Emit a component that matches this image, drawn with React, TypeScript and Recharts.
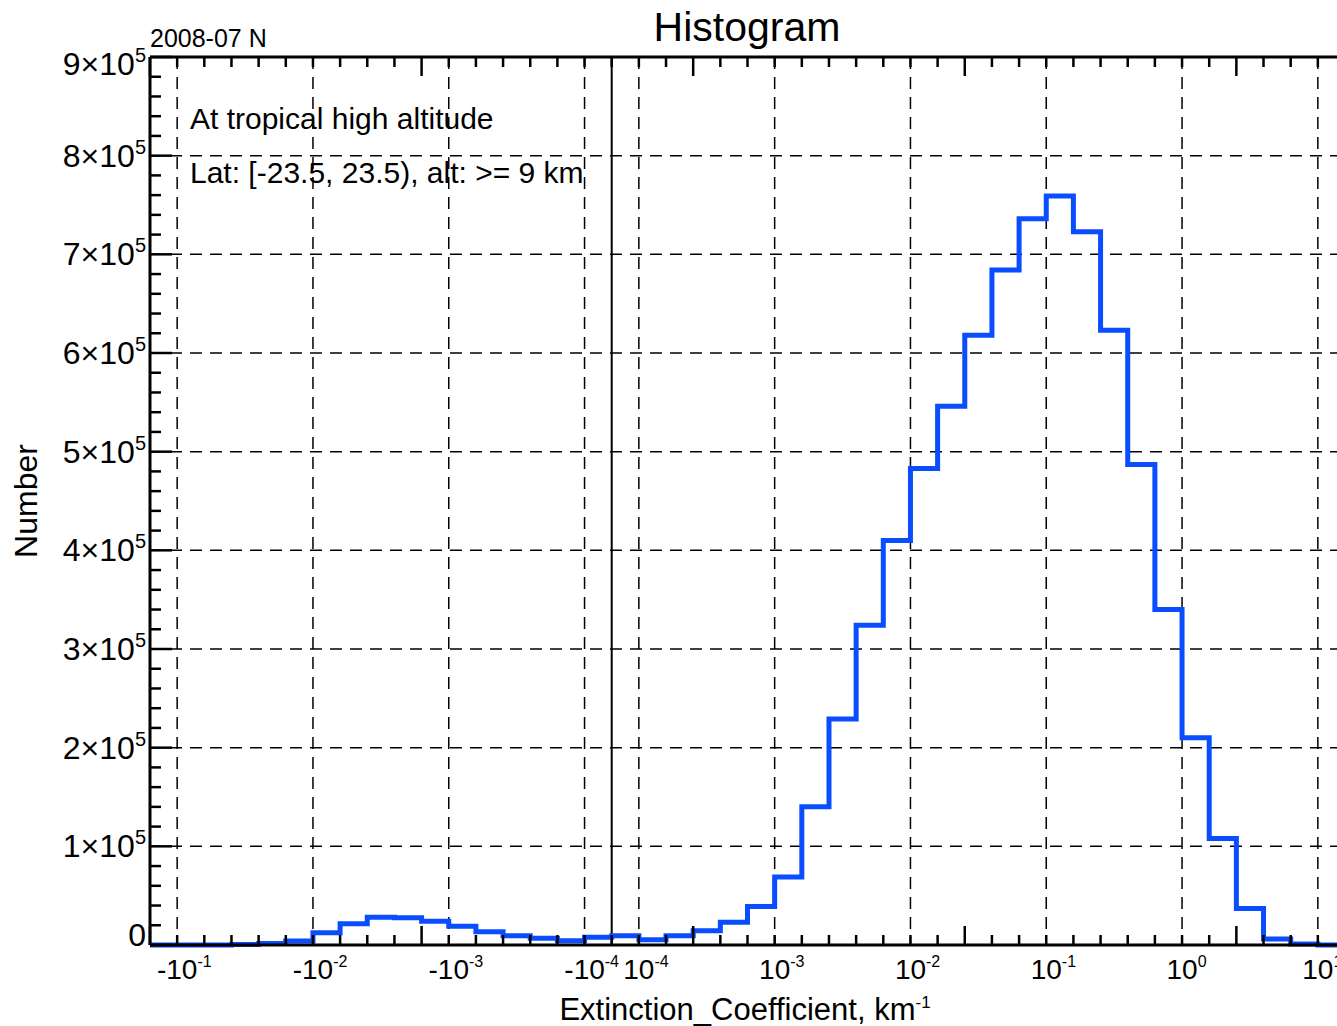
import React from 'react'
import { LineChart, Line, XAxis, YAxis, CartesianGrid, ReferenceLine } from 'recharts'

// histogram counts, one per bin (bins are 0.2 decade wide, index = bin position)
const binCounts = [
    0, 0, 0, 500, 1500, 4000, 12500, 21500, 28000, 27500,
    24000, 19000, 13500, 9500, 6800, 4400, 7800, 9500, 5400, 9500,
    14500, 23000, 39000, 69000, 140000, 229000, 324000, 410000, 483000, 546000,
    618000, 684000, 736000, 759000, 723000, 623000, 487000, 340000, 210000, 108000,
    37000, 6000, 1000, 0,
]

// decade positions on the bin axis and their labels
const decadeUnits = [1, 6, 11, 16, 18, 23, 28, 33, 38, 43]
const decadeBase = ['-10', '-10', '-10', '-10', '10', '10', '10', '10', '10', '10']
const decadeExp = ['-1', '-2', '-3', '-4', '-4', '-3', '-2', '-1', '0', '1']
const zeroUnit = 17

const yMajor = [100000, 200000, 300000, 400000, 500000, 600000, 700000, 800000]
const yLabelMant = ['0', '1', '2', '3', '4', '5', '6', '7', '8', '9']

const FONT = '"Liberation Sans", Arial, Helvetica, sans-serif'
const BLUE = '#0a4dff'

const nBins = binCounts.length
const histData = [...binCounts, binCounts[nBins - 1]].map((count, i) => ({ edge: i, count }))
const xTicks = Array.from({ length: nBins + 1 }, (_, i) => i)
const yTicks = Array.from({ length: 46 }, (_, i) => i * 20000)

// rough Arial advance widths, used to centre the base part of a label
const charW: Record<string, number> = { '-': 0.333, '1': 0.556, '0': 0.556 }
const textWidth = (s: string, fs: number) =>
    s.split('').reduce((w, c) => w + (charW[c] ?? 0.556), 0) * fs

const BottomTick = (props: any) => {
    const { x, y, payload } = props
    const v = payload.value
    const len = v % 10 === 0 ? 19 : 10
    const i = decadeUnits.indexOf(v)
    const fs = 28
    return (
        <g>
            <line x1={x} x2={x} y1={y} y2={y - len} stroke="#000" strokeWidth={2.5} />
            {i >= 0 && (
                <text x={x - textWidth(decadeBase[i], fs) / 2} y={y + 34} fontSize={fs} fontFamily={FONT} fill="#000">
                    {decadeBase[i]}
                    <tspan dy={-12} fontSize={16}>{decadeExp[i]}</tspan>
                </text>
            )}
        </g>
    )
}

const TopTick = (props: any) => {
    const { x, y, payload } = props
    const len = payload.value % 10 === 0 ? 19 : 10
    return <line x1={x} x2={x} y1={y} y2={y + len} stroke="#000" strokeWidth={2.5} />
}

const LeftTick = (props: any) => {
    const { x, y, payload } = props
    const v = payload.value
    const major = v % 100000 === 0
    const idx = Math.round(v / 100000)
    let dy = 0
    if (idx === 9) dy = 7
    if (idx === 0) dy = -10
    return (
        <g>
            <line x1={x} x2={x + (major ? 22 : 11)} y1={y} y2={y} stroke="#000" strokeWidth={2.5} />
            {major && (
                <text x={x - 4} y={y + dy + 11} textAnchor="end" fontSize={32} fontFamily={FONT} fill="#000">
                    {idx === 0 ? '0' : `${yLabelMant[idx]}×10`}
                    {idx !== 0 && <tspan dy={-13} fontSize={20}>5</tspan>}
                </text>
            )}
        </g>
    )
}

const RightTick = (props: any) => {
    const { x, y, payload } = props
    const major = payload.value % 100000 === 0
    return <line x1={x} x2={x - (major ? 22 : 11)} y1={y} y2={y} stroke="#000" strokeWidth={2.5} />
}

export default function App() {
    return (
        <div style={{ position: 'absolute', left: 0, top: 0, width: 1337, height: 1026, overflow: 'hidden', background: '#fff' }}>
            <LineChart width={1360} height={1026} data={histData} margin={{ top: 56, right: 14, bottom: 80, left: 149 }}>
                <CartesianGrid
                    xAxisId="b"
                    yAxisId="l"
                    stroke="#000"
                    strokeWidth={1.5}
                    strokeDasharray="12 8"
                    verticalValues={decadeUnits}
                    horizontalValues={yMajor}
                />
                <XAxis
                    xAxisId="b"
                    dataKey="edge"
                    type="number"
                    domain={[0, nBins]}
                    ticks={xTicks}
                    interval={0}
                    height={1}
                    tickSize={0}
                    tickMargin={0}
                    tickLine={false}
                    axisLine={{ stroke: '#000', strokeWidth: 3 }}
                    tick={<BottomTick />}
                />
                <XAxis
                    xAxisId="t"
                    orientation="top"
                    dataKey="edge"
                    type="number"
                    domain={[0, nBins]}
                    ticks={xTicks}
                    interval={0}
                    height={1}
                    tickSize={0}
                    tickMargin={0}
                    tickLine={false}
                    axisLine={{ stroke: '#000', strokeWidth: 3 }}
                    tick={<TopTick />}
                />
                <YAxis
                    yAxisId="l"
                    type="number"
                    domain={[0, 900000]}
                    ticks={yTicks}
                    interval={0}
                    width={1}
                    tickSize={0}
                    tickMargin={0}
                    tickLine={false}
                    axisLine={{ stroke: '#000', strokeWidth: 3 }}
                    tick={<LeftTick />}
                />
                <YAxis
                    yAxisId="r"
                    orientation="right"
                    type="number"
                    domain={[0, 900000]}
                    ticks={yTicks}
                    interval={0}
                    width={1}
                    tickSize={0}
                    tickMargin={0}
                    tickLine={false}
                    axisLine={{ stroke: '#000', strokeWidth: 3 }}
                    tick={<RightTick />}
                />
                <ReferenceLine xAxisId="b" yAxisId="l" x={zeroUnit} stroke="#000" strokeWidth={2} />
                <Line
                    xAxisId="b"
                    yAxisId="l"
                    type="stepAfter"
                    dataKey="count"
                    stroke={BLUE}
                    strokeWidth={5}
                    dot={false}
                    isAnimationActive={false}
                />
            </LineChart>
            <div style={{ position: 'absolute', left: 0, top: 0, width: 1337, height: 1026, pointerEvents: 'none' }}>
                <svg width={1337} height={1026} style={{ fontFamily: FONT }}>
                    <text x={747} y={41} textAnchor="middle" fontSize={41}>Histogram</text>
                    <text x={150} y={47} fontSize={25}>2008-07 N</text>
                    <text x={190} y={129} fontSize={30}>At tropical high altitude</text>
                    <text x={190} y={183} fontSize={30}>Lat: [-23.5, 23.5), alt: &gt;= 9 km</text>
                    <text x={745} y={1020} textAnchor="middle" fontSize={31}>
                        Extinction_Coefficient, km<tspan dy={-12} fontSize={17}>-1</tspan>
                    </text>
                    <text x={37} y={501} textAnchor="middle" fontSize={32} transform="rotate(-90 37 501)">Number</text>
                </svg>
            </div>
        </div>
    )
}
